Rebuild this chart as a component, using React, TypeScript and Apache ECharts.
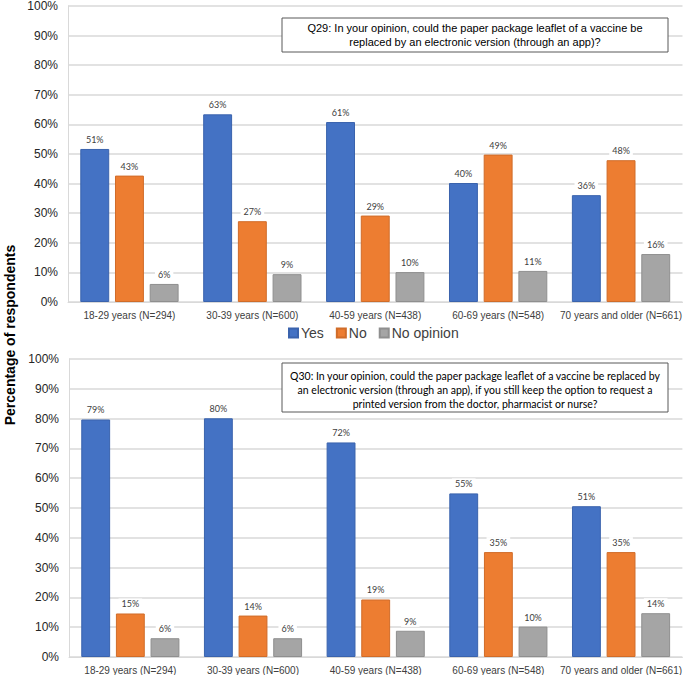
import React, { useEffect, useRef } from "react";
import * as echarts from "echarts";

const categories = [
  "18-29 years (N=294)",
  "30-39 years (N=600)",
  "40-59 years (N=438)",
  "60-69 years (N=548)",
  "70 years and older (N=661)",
];
const seriesNames = ["Yes", "No", "No opinion"];
const colors = ["#4472C4", "#ED7D31", "#A5A5A5"];
const borders = ["#3a63ad", "#d06c29", "#8f8f8f"];

// Q29
const q29Yes = [51.7, 63.4, 60.8, 40.2, 36.1];
const q29No = [42.7, 27.3, 29.2, 49.8, 47.9];
const q29NoOpinion = [6.1, 9.4, 10.1, 10.5, 16.2];
const q29YesLabels = ["51%", "63%", "61%", "40%", "36%"];
const q29NoLabels = ["43%", "27%", "29%", "49%", "48%"];
const q29NoOpinionLabels = ["6%", "9%", "10%", "11%", "16%"];

// Q30
const q30Yes = [79.7, 80.1, 72.0, 54.9, 50.6];
const q30No = [14.6, 13.9, 19.3, 35.2, 35.2];
const q30NoOpinion = [6.3, 6.3, 8.8, 10.2, 14.7];
const q30YesLabels = ["79%", "80%", "72%", "55%", "51%"];
const q30NoLabels = ["15%", "14%", "19%", "35%", "35%"];
const q30NoOpinionLabels = ["6%", "6%", "9%", "10%", "14%"];

const yTicks = [0, 10, 20, 30, 40, 50, 60, 70, 80, 90, 100];

const q29Text =
  "Q29: In your opinion, could the paper package leaflet of a vaccine be\nreplaced by an electronic version (through an app)?";
const q30Text =
  "Q30: In your opinion, could the paper package leaflet of a vaccine be replaced by\nan electronic version (through an app), if you still keep the option to request a\nprinted version from the doctor, pharmacist or nurse?";
const yTitle = "Percentage of respondents";

export default function App() {
  const ref = useRef<HTMLDivElement>(null);
  useEffect(() => {
    if (!ref.current) return;
    const chart = echarts.init(ref.current, undefined, { renderer: "svg" });

    const mkX = (gridIndex: number) => ({
      type: "category",
      gridIndex,
      data: categories,
      axisTick: { show: false },
      axisLine: { lineStyle: { color: "#d9d9d9", width: 1 } },
      axisLabel: {
        color: "#404040",
        fontSize: 10,
        fontFamily: "Liberation Sans, Arial",
        margin: 8,
        interval: 0,
      },
    });
    const mkY = (gridIndex: number) => ({
      type: "value",
      gridIndex,
      min: 0,
      max: 100,
      interval: 10,
      axisLine: { show: true, lineStyle: { color: "#d9d9d9", width: 1 } },
      axisTick: { show: false },
      splitLine: { lineStyle: { color: "#d9d9d9", width: 1.5 } },
      axisLabel: {
        color: "#262626",
        fontSize: 12,
        fontFamily: "Liberation Sans, Arial",
        margin: 10,
        formatter: (v: number) => (yTicks.includes(v) ? v + "%" : ""),
      },
    });

    const mkSeries = (
      name: string,
      idx: number,
      gridIndex: number,
      data: number[],
      labels: string[]
    ) => ({
      name,
      type: "bar",
      xAxisIndex: gridIndex,
      yAxisIndex: gridIndex,
      data,
      barGap: "20%",
      barCategoryGap: "20%",
      itemStyle: { color: colors[idx], borderColor: borders[idx], borderWidth: 1 },
      label: {
        show: true,
        position: "top",
        distance: 4,
        color: "#404040",
        fontSize: 9,
        fontFamily: "Lato, Carlito, Calibri",
        backgroundColor: "#ffffff",
        padding: [1, 3],
        formatter: (p: any) => labels[p.dataIndex],
      },
    });

    chart.setOption({
      animation: false,
      backgroundColor: "#ffffff",
      grid: [
        { left: 68, right: 2, top: 6, height: 296 },
        { left: 69, right: 2, top: 359, height: 300 },
      ],
      xAxis: [mkX(0), mkX(1)],
      yAxis: [mkY(0), mkY(1)],
      legend: {
        data: seriesNames,
        left: 283,
        top: 321,
        itemWidth: 9,
        itemHeight: 9,
        itemGap: 12,
        icon: "rect",
        textStyle: { fontSize: 14, color: "#404040", fontFamily: "Liberation Sans, Arial", padding: [0, 0, 0, -2] },
      },
      series: [
        mkSeries("Yes", 0, 0, q29Yes, q29YesLabels),
        mkSeries("No", 1, 0, q29No, q29NoLabels),
        mkSeries("No opinion", 2, 0, q29NoOpinion, q29NoOpinionLabels),
        mkSeries("Yes", 0, 1, q30Yes, q30YesLabels),
        mkSeries("No", 1, 1, q30No, q30NoLabels),
        mkSeries("No opinion", 2, 1, q30NoOpinion, q30NoOpinionLabels),
      ],
      graphic: [
        {
          type: "rect",
          shape: { x: 282, y: 18, width: 386, height: 34 },
          style: { fill: "#ffffff", stroke: "#595959", lineWidth: 1 },
          z: 100,
        },
        {
          type: "text",
          x: 475,
          y: 35,
          z: 101,
          style: {
            text: q29Text,
            fill: "#000000",
            fontSize: 11,
            fontFamily: "Liberation Sans, Arial",
            align: "center",
            verticalAlign: "middle",
            lineHeight: 14,
          },
        },
        {
          type: "rect",
          shape: { x: 282, y: 363, width: 386, height: 49 },
          style: { fill: "#ffffff", stroke: "#595959", lineWidth: 1 },
          z: 100,
        },
        {
          type: "text",
          x: 475,
          y: 390,
          z: 101,
          style: {
            text: q30Text,
            fill: "#000000",
            fontSize: 10.5,
            fontFamily: "Lato, Carlito, Calibri",
            align: "center",
            verticalAlign: "middle",
            lineHeight: 14,
          },
        },
        {
          type: "text",
          x: 10,
          y: 335,
          rotation: Math.PI / 2,
          style: {
            text: yTitle,
            fill: "#000000",
            fontSize: 14,
            fontWeight: "bold",
            fontFamily: "Liberation Sans, Arial",
            align: "center",
            verticalAlign: "middle",
          },
        },
      ],
    });
    return () => chart.dispose();
  }, []);
  return (
    <div
      ref={ref}
      style={{ position: "fixed", left: 0, top: 0, width: 685, height: 675 }}
    />
  );
}
